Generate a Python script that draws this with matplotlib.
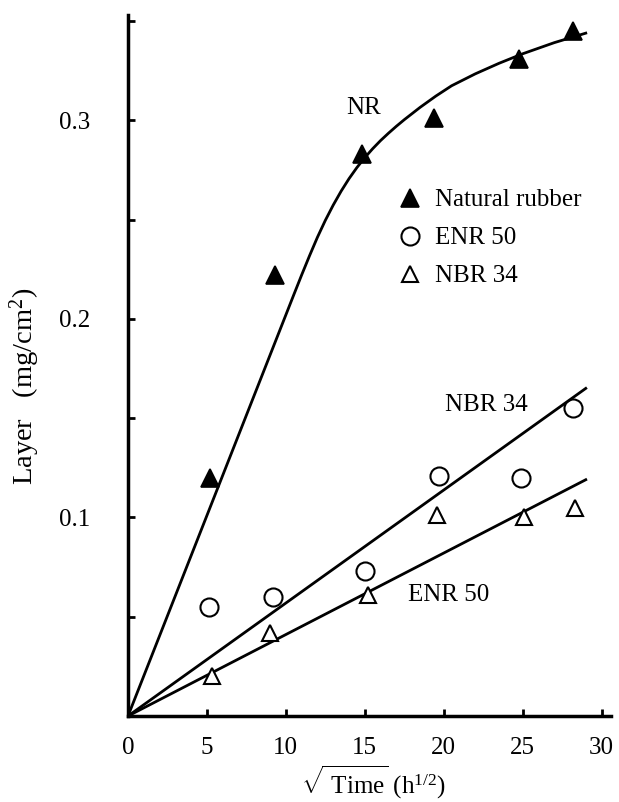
import matplotlib
matplotlib.use("Agg")
import matplotlib.pyplot as plt

plt.rcParams["font.family"] = ["Liberation Serif", "DejaVu Serif"]
plt.rcParams["mathtext.fontset"] = "custom"
plt.rcParams["mathtext.rm"] = "Liberation Serif"
plt.rcParams["mathtext.it"] = "Liberation Serif:italic"
plt.rcParams["mathtext.bf"] = "Liberation Serif:bold"

# Measured layer thickness vs square root of exposure time
nr_x = [5.2, 9.3, 14.8, 19.4, 24.8, 28.2]
nr_y = [0.120, 0.222, 0.283, 0.301, 0.331, 0.345]

enr_x = [5.1, 9.2, 15.0, 19.7, 24.9, 28.2]
enr_y = [0.055, 0.060, 0.073, 0.121, 0.120, 0.155]

nbr_x = [5.3, 9.0, 15.2, 19.6, 25.1, 28.3]
nbr_y = [0.020, 0.042, 0.061, 0.101, 0.100, 0.105]

# Hand-fitted NR trend curve
nr_curve_x = [0.0, 5.0, 10.0, 10.5, 11.0, 11.5, 12.0, 12.5, 13.0, 13.5, 14.0,
              14.5, 15.0, 15.5, 16.0, 16.5, 17.0, 17.5, 18.5, 19.5, 20.5,
              22.0, 23.5, 25.0, 27.0, 29.0]
nr_curve_y = [0.0, 0.101, 0.202, 0.2121, 0.2221, 0.2318, 0.2411, 0.2496, 0.2573,
              0.2643, 0.2706, 0.2762, 0.2812, 0.2857, 0.2898, 0.2935, 0.2970,
              0.3003, 0.3065, 0.3122, 0.3174, 0.3234, 0.3287, 0.3335, 0.3391,
              0.3439]

# Linear fits through the origin
upper_fit_x = [0.0, 29.0]
upper_fit_y = [0.0, 0.165]
lower_fit_x = [0.0, 29.0]
lower_fit_y = [0.0, 0.119]

x_ticks = [0, 5, 10, 15, 20, 25, 30]
y_ticks = [0.05, 0.10, 0.15, 0.20, 0.25, 0.30, 0.35]
y_tick_labels = ["", "0.1", "", "0.2", "", "0.3", ""]

legend_labels = ["Natural rubber", "ENR 50", "NBR 34"]

fig = plt.figure(figsize=(6.19, 8.02), dpi=100)
ax = fig.add_axes([0.2068, 0.1072, 0.7803, 0.874])

lw = 2.0
ax.plot(nr_curve_x, nr_curve_y, color="black", lw=lw, zorder=2,
        solid_joinstyle="round")
ax.plot(upper_fit_x, upper_fit_y, color="black", lw=lw, zorder=2)
ax.plot(lower_fit_x, lower_fit_y, color="black", lw=lw, zorder=2)

h_nr, = ax.plot(nr_x, nr_y, linestyle="none", marker="^", ms=13,
                mfc="black", mec="black", mew=1.2, zorder=3)
h_enr, = ax.plot(enr_x, enr_y, linestyle="none", marker="o", ms=13,
                 mfc="none", mec="black", mew=1.5, zorder=3)
h_nbr, = ax.plot(nbr_x, nbr_y, linestyle="none", marker="^", ms=12,
                 mfc="white", mec="black", mew=1.5, zorder=3)

ax.text(14.9, 0.306, "NR", fontsize=18, ha="center", va="center")
ax.text(22.7, 0.1567, "NBR 34", fontsize=18, ha="center", va="center")
ax.text(20.3, 0.061, "ENR 50", fontsize=18, ha="center", va="center")

leg = ax.legend([h_nr, h_enr, h_nbr], legend_labels, loc="upper left",
                bbox_to_anchor=(0.563, 0.752), frameon=False, fontsize=18,
                handlelength=0.8, handletextpad=0.6, labelspacing=0.62,
                borderaxespad=0.0, borderpad=0.0)

ax.set_xlim(0, 30.6)
ax.set_ylim(0, 0.353)
ax.set_xticks(x_ticks)
ax.set_xticklabels([str(v) for v in x_ticks])
ax.set_yticks(y_ticks)
ax.set_yticklabels(y_tick_labels)

for side in ("top", "right"):
    ax.spines[side].set_visible(False)
for side in ("left", "bottom"):
    ax.spines[side].set_linewidth(2.5)

ax.tick_params(axis="x", direction="in", length=5, width=2, labelsize=18, pad=15)
ax.tick_params(axis="y", direction="in", length=5, width=2, labelsize=18, pad=27)

fig.text(0.04, 0.518, r"Layer   (mg/cm$^2$)", rotation=90, fontsize=20.5,
         ha="center", va="center")
fig.text(0.603, 0.024, r"$\sqrt{\mathrm{\ Time}}$ (h$^{1/2}$)", fontsize=18,
         ha="center", va="center")

fig.savefig("out.png", dpi=100)
